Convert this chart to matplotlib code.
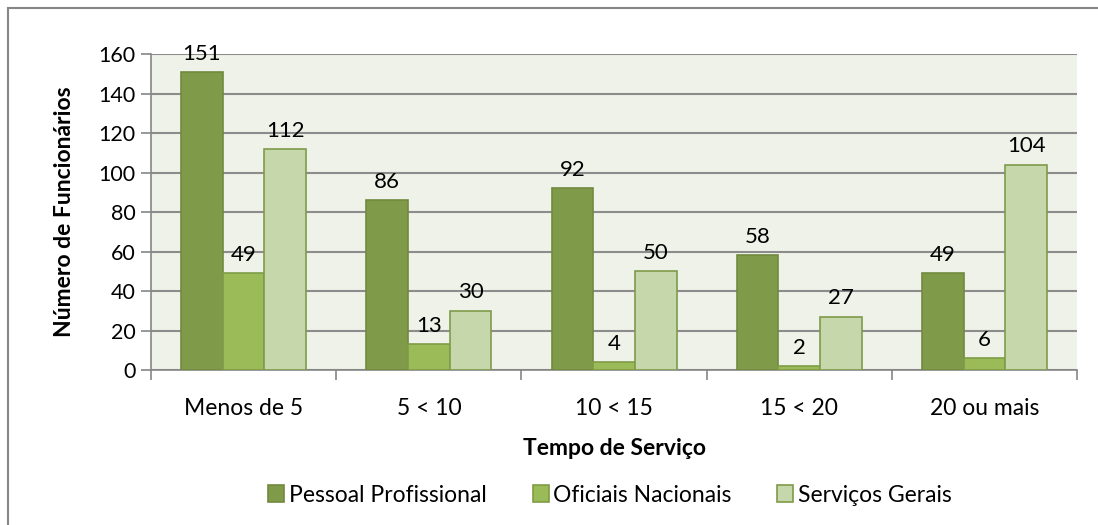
import matplotlib.pyplot as plt
import numpy as np
from matplotlib.patches import Rectangle

# Dados do gráfico
categorias = ['Menos de 5', '5 < 10', '10 < 15', '15 < 20', '20 ou mais']
pessoal_profissional = [151, 86, 92, 58, 49]
oficiais_nacionais = [49, 13, 4, 2, 6]
servicos_gerais = [112, 30, 50, 27, 104]
series_nomes = ['Pessoal Profissional', 'Oficiais Nacionais', 'Serviços Gerais']

plt.rcParams['font.family'] = ['Lato', 'DejaVu Sans']

cores = ['#7F9B4A', '#9BBB59', '#C6D7AB']
bordas = ['#71893F', '#7F9C46', '#7F9B4A']

fig = plt.figure(figsize=(10.98, 5.25), dpi=100)
ax = fig.add_axes([0.1375, 0.2952, 0.8435, 0.6018])
ax.set_facecolor('#EFF2E8')

# moldura cinza do gráfico
fig.patches.append(Rectangle((8 / 1098, -0.1), 1.2, 1 - 8 / 525 + 0.1, transform=fig.transFigure,
                             fill=False, edgecolor='#868686', linewidth=1.5))

x = np.arange(len(categorias))
largura = 0.225
dados = [pessoal_profissional, oficiais_nacionais, servicos_gerais]
for i, valores in enumerate(dados):
    pos = x + (i - 1) * largura
    barras = ax.bar(pos, valores, largura, color=cores[i], edgecolor=bordas[i],
                    linewidth=1.2, label=series_nomes[i], zorder=3)
    ax.bar_label(barras, padding=6, fontsize=16, color='black')

ax.set_xlim(-0.5, len(categorias) - 0.5)
ax.set_ylim(0, 160)
ax.set_yticks(np.arange(0, 161, 20))
ax.set_xticks(x)
ax.set_xticklabels(categorias, fontsize=16.5)
ax.set_xticks(np.arange(-0.5, len(categorias), 1), minor=True)
ax.tick_params(axis='x', which='major', length=0, pad=20)
ax.tick_params(axis='x', which='minor', length=7, color='#868686', width=1.2)
ax.tick_params(axis='y', labelsize=15.5, length=7, color='#868686', width=1.2, pad=4)

ax.yaxis.grid(True, color='#8C8C8C', linewidth=1.5, zorder=0)
ax.set_axisbelow(True)
for lado in ['top', 'right']:
    ax.spines[lado].set_visible(False)
for lado in ['left', 'bottom']:
    ax.spines[lado].set_color('#868686')
    ax.spines[lado].set_linewidth(1.2)

ax.set_xlabel('Tempo de Serviço', fontsize=16.5, fontweight='bold', labelpad=14)
ax.set_ylabel('Número de Funcionários', fontsize=16.5, fontweight='bold', labelpad=17)

fig.legend(loc='center', bbox_to_anchor=(610 / 1098, 1 - 495 / 525), ncol=3, frameon=False,
           fontsize=16.5, handlelength=0.7, handleheight=0.7, handletextpad=0.2, columnspacing=2.0)

fig.savefig('out.png', dpi=100)
